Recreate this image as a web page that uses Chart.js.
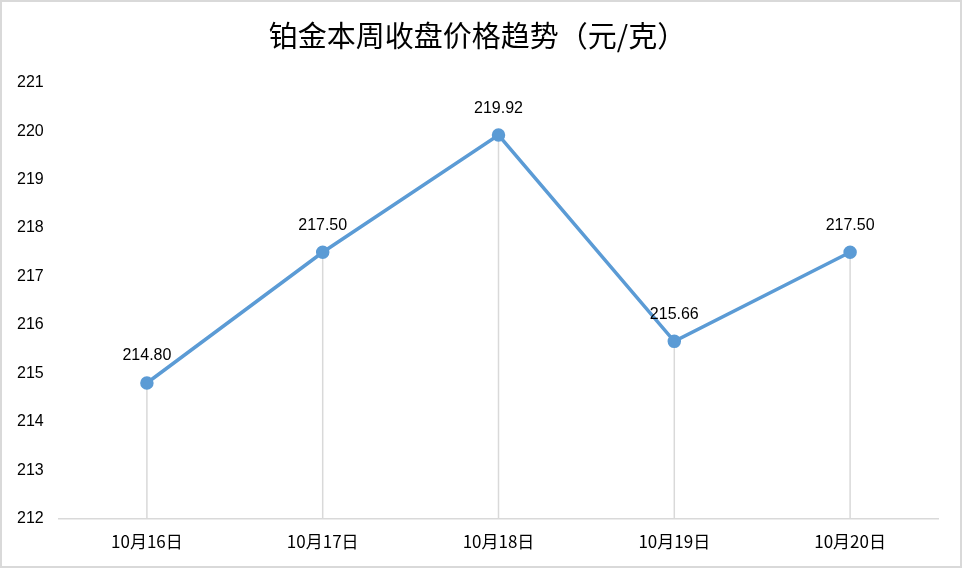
<!DOCTYPE html>
<html lang="zh">
<head>
    <meta charset="UTF-8">
    <title>铂金本周收盘价格趋势</title>
    <script src="https://cdn.jsdelivr.net/npm/chart.js"></script>
    <style>
        body { margin: 0; background: #fff; }
        #box {
            position: absolute; left: 0; top: 0;
            width: 962px; height: 568px;
            border: 2px solid #d9d9d9; box-sizing: border-box;
        }
    </style>
</head>
<body>
    <div id="box">
        <canvas id="myChart"></canvas>
    </div>

    <script>
        // 数据
        const days = ['10月16日', '10月17日', '10月18日', '10月19日', '10月20日'];
        const prices = [214.80, 217.50, 219.92, 215.66, 217.50];
        const yMin = 212;
        const yMax = 221;

        const numFont = "'Liberation Sans', Arial, sans-serif";
        const cjkFont = "'Noto Sans CJK SC', sans-serif";

        // 垂直线
        const dropLines = {
            id: 'dropLines',
            beforeDatasetsDraw(chart) {
                const ctx = chart.ctx;
                const y = chart.scales.y;
                ctx.save();
                ctx.strokeStyle = '#d9d9d9';
                ctx.lineWidth = 1.5;
                chart.getDatasetMeta(0).data.forEach(pt => {
                    ctx.beginPath();
                    ctx.moveTo(pt.x, pt.y);
                    ctx.lineTo(pt.x, y.bottom);
                    ctx.stroke();
                });
                ctx.restore();
            }
        };

        // 数据标签
        const valueLabels = {
            id: 'valueLabels',
            afterDatasetsDraw(chart) {
                const ctx = chart.ctx;
                const ds = chart.data.datasets[0];
                ctx.save();
                ctx.fillStyle = '#000';
                ctx.font = '16px ' + numFont;
                ctx.textAlign = 'center';
                ctx.textBaseline = 'middle';
                chart.getDatasetMeta(0).data.forEach((pt, i) => {
                    ctx.fillText(ds.data[i].toFixed(2), pt.x, pt.y - 27);
                });
                ctx.restore();
            }
        };

        const ctx = document.querySelector('#myChart').getContext('2d');
        new Chart(ctx, {
            type: 'line',
            data: {
                labels: days,
                datasets: [{
                    data: prices,
                    borderColor: '#5b9bd5',
                    backgroundColor: '#5b9bd5',
                    borderWidth: 3.5,
                    pointRadius: 5,
                    pointHoverRadius: 5,
                    tension: 0
                }]
            },
            options: {
                responsive: true,
                maintainAspectRatio: false,
                animation: false,
                layout: { padding: { left: 15, right: 22, top: 0, bottom: 9 } },
                plugins: {
                    legend: { display: false },
                    tooltip: { enabled: false },
                    title: {
                        display: true,
                        text: '铂金本周收盘价格趋势（元/克）',
                        color: '#000',
                        font: { family: cjkFont, size: 29, weight: 'normal', lineHeight: 1.2 },
                        padding: { top: 17, bottom: 29 }
                    }
                },
                scales: {
                    x: {
                        offset: true,
                        grid: { display: false },
                        border: { display: true, color: '#d9d9d9', width: 1.5 },
                        ticks: { color: '#000', font: { family: cjkFont, size: 17 }, padding: 5 }
                    },
                    y: {
                        min: yMin,
                        max: yMax,
                        grid: { display: false },
                        border: { display: false },
                        afterFit(scale) { scale.width = 42; },
                        ticks: {
                            stepSize: 1,
                            color: '#000',
                            crossAlign: 'far',
                            padding: 10,
                            font: { family: numFont, size: 16 }
                        }
                    }
                }
            },
            plugins: [dropLines, valueLabels]
        });
    </script>
</body>
</html>
